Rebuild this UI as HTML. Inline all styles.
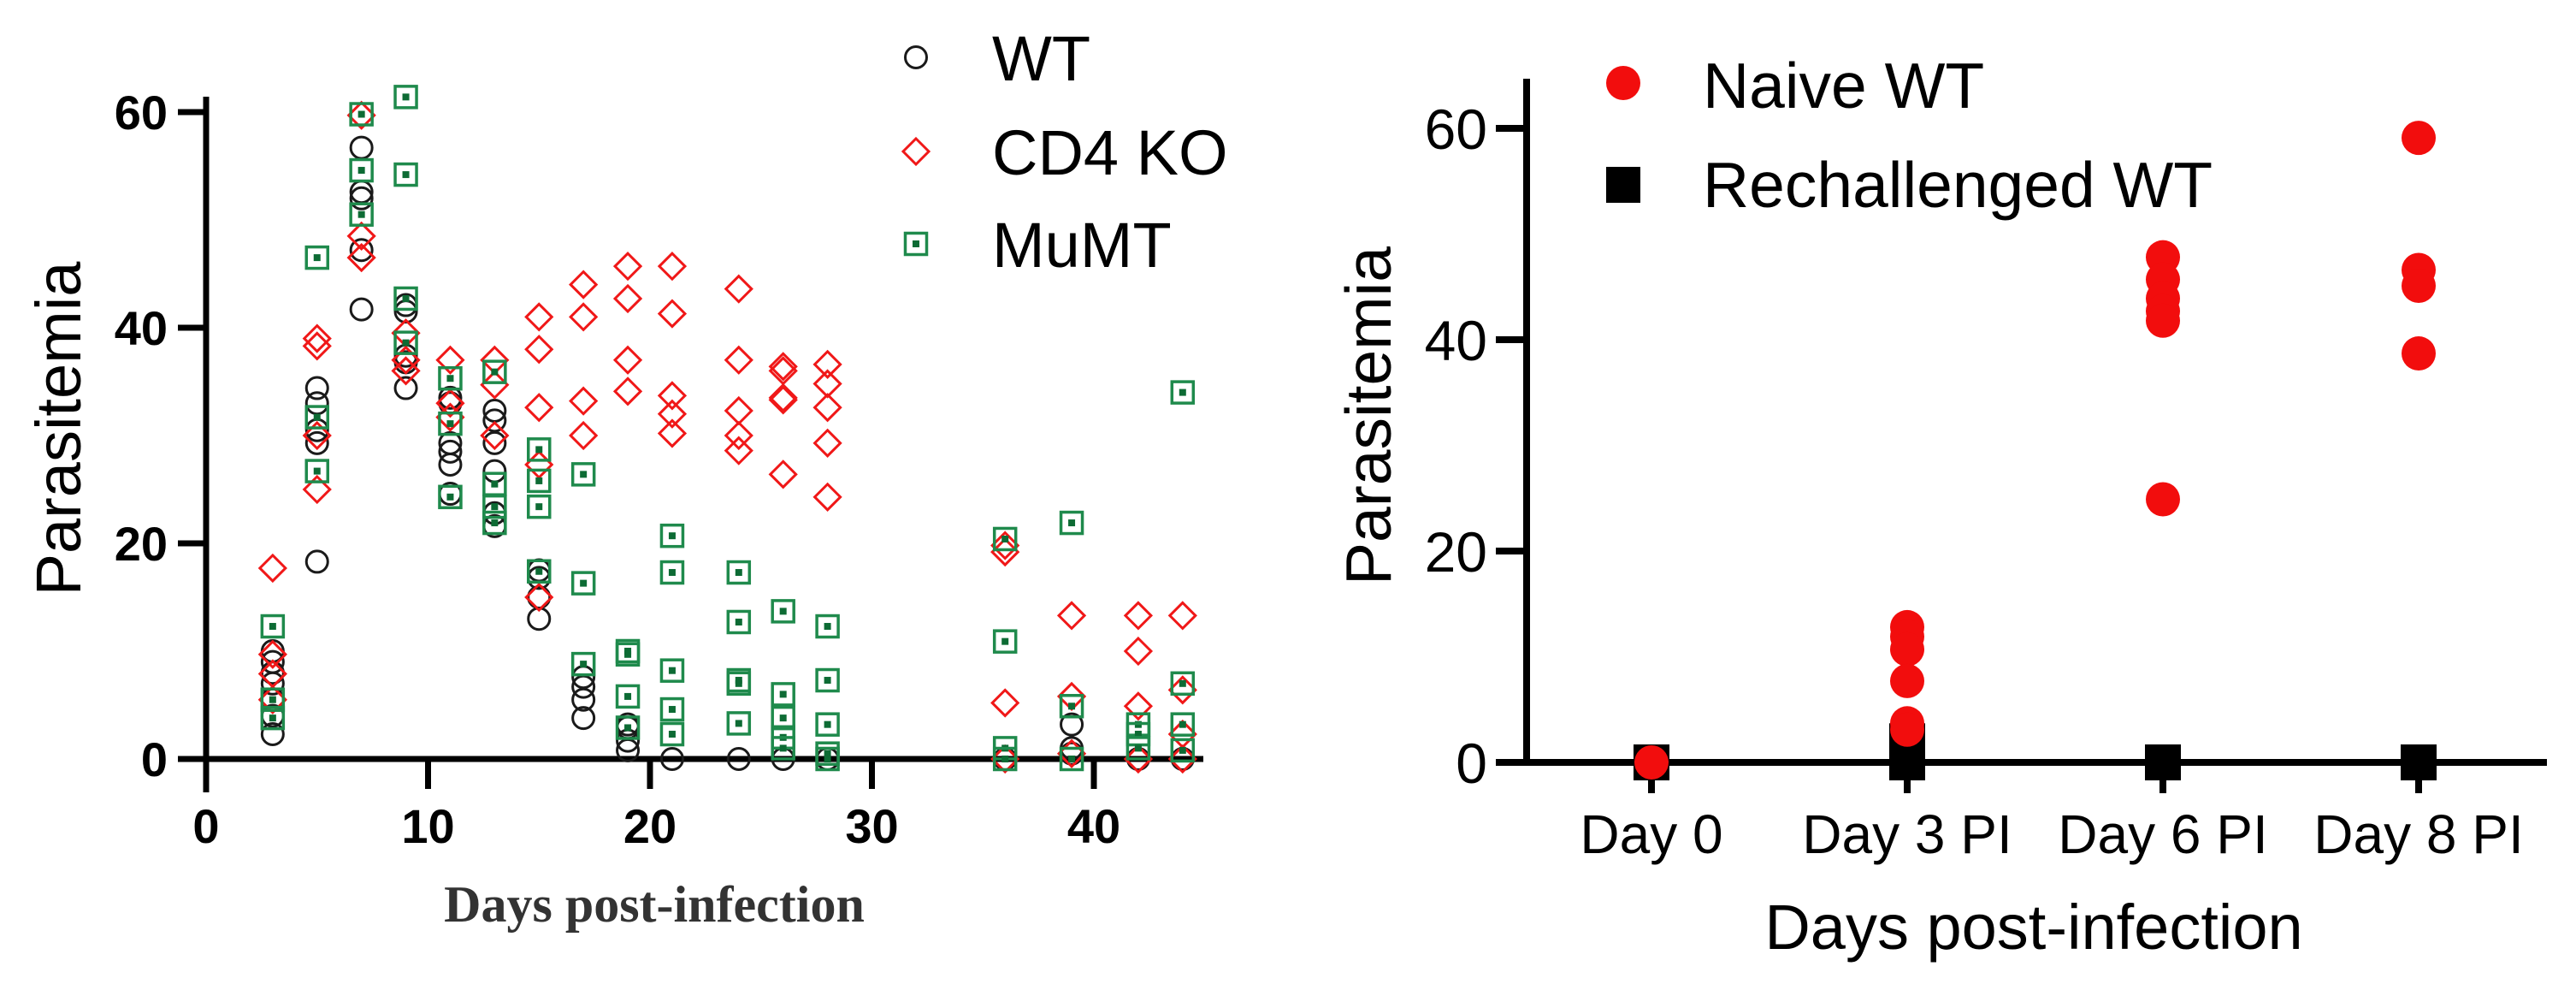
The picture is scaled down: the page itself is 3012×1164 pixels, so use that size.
<!DOCTYPE html>
<html><head><meta charset="utf-8"><style>
html,body{margin:0;padding:0;background:#fff;}
svg{display:block;}
</style></head><body>
<svg id="chart" width="3012" height="1164" viewBox="0 0 3012 1164" xmlns="http://www.w3.org/2000/svg">
<g id="left"></g>
<g id="right"></g>
</svg>
<script>
// ---- Left chart data ----
const days = [3,5,7,9,11,13,15,17,19,21,24,26,28,36,39,42,44];
const wtVals = [
 [2.3,4,5.5,7,8,9,10],[18.3,29.3,30.5,33,34.4],[41.7,47.2,52,52.6,56.7],[34.4,36.8,37.4,41.5,42.1],
 [24.6,27.3,28.5,29.3,33,33.5],[21.6,22.8,26.7,29.3,31.4,32.3],[13,15,16.8,17.5],[3.8,5.5,6.7,7.6],
 [0.8,1.7,2.9,3.2],[0],[0],[0],[0],[0],[3.2,1,0.5],[0],[0]];
const cd4Vals = [
 [17.7,9.7,7.9,5.5],[39,38.3,30,25],[59.7,48.5,46.5],[39.5,37,36],
 [37,33,31.7],[37,34.7,30],[41,38,32.6,27.3,15],[44,41,33.2,30],
 [45.7,42.7,37,34.1],[45.7,41.3,33.7,32,30.2],[43.6,37,32.3,30,28.6],[36.4,36,33.5,33.3,26.4],
 [36.6,34.8,32.6,29.3,24.3],[19.8,19.2,5.2,0],[13.3,5.8,0.5],[13.3,10,4.9,0],[13.3,6.4,2.3,0]];
const mumtVals = [
 [12.3,5.5,3.8],[46.5,31.7,26.7],[59.8,54.6,50.5],[61.4,54.2,42.7,38.6],
 [35.3,31.1,24.3],[35.9,25.5,23.4,21.9],[28.7,25.8,23.4,17.4],[26.4,16.3,8.8],
 [10,9.7,5.8,2.9],[20.7,17.3,8.2,4.6,2.3],[17.3,12.7,7.3,7,3.3],[13.7,6,3.8,2,1],
 [12.3,7.3,3.2,0.5,0],[20.4,10.9,1,0],[21.9,4.9,0],[3.2,2.3,1],[34,7,3.2,0.8]];
const leftXTicks = [0,10,20,30,40];
const leftYTicks = [0,20,40,60];
const leftSeries = ['WT','CD4 KO','MuMT'];

// ---- Right chart data ----
const categories = ['Day 0','Day 3 PI','Day 6 PI','Day 8 PI'];
const naiveVals = [[0],[12.8,11.9,10.7,7.7,3.7,3.1],[47.8,45.7,43.9,42.7,41.8,24.9],[59.1,46.6,45.1,38.7]];
const rechVals = [[0],[2,1,0.5,0],[0],[0]];
const rightYTicks = [0,20,40,60];
const rightSeries = ['Naive WT','Rechallenged WT'];

const NS='http://www.w3.org/2000/svg';
function mk(parent,tag,attrs,text){const e=document.createElementNS(NS,tag);for(const k in attrs)e.setAttribute(k,attrs[k]);if(text!==undefined)e.textContent=text;parent.appendChild(e);return e;}

// ===== LEFT =====
const L=document.getElementById('left');
const lx=v=>241+v*25.95, ly=v=>887-v*12.6;
const SANS='Liberation Sans, Arial, sans-serif';
function circle(g,x,y){return mk(g,'circle',{cx:x,cy:y,r:12.5,fill:'none',stroke:'#1a1a1a','stroke-width':3});}
function diamond(g,x,y){const d=15;return mk(g,'polygon',{points:`${x},${y-d} ${x+d},${y} ${x},${y+d} ${x-d},${y}`,fill:'none',stroke:'#f01818','stroke-width':3});}
function gsq(g,x,y){const grp=mk(g,'g',{});mk(grp,'rect',{x:x-12.5,y:y-12.5,width:25,height:25,fill:'none',stroke:'#1f8a4c','stroke-width':3.5});mk(grp,'rect',{x:x-4,y:y-4,width:8,height:8,fill:'#0d6b34'});return grp;}

let e;
e=mk(L,'line',{x1:241,y1:113,x2:241,y2:926,stroke:'#000','stroke-width':7});

e=mk(L,'line',{x1:210,y1:ly(0),x2:1407,y2:ly(0),stroke:'#000','stroke-width':7});

leftXTicks.forEach(t=>{
  const tk=mk(L,'line',{x1:lx(t),y1:ly(0),x2:lx(t),y2:ly(0)+35,stroke:'#000','stroke-width':7});
  
  const lb=mk(L,'text',{x:lx(t),y:985,'text-anchor':'middle','font-family':SANS,'font-weight':'bold','font-size':56,fill:'#000'},String(t));
  
});
leftYTicks.forEach(t=>{
  const tk=mk(L,'line',{x1:208,y1:ly(t),x2:241,y2:ly(t),stroke:'#000','stroke-width':7});
  
  const lb=mk(L,'text',{x:196,y:ly(t)+20,'text-anchor':'end','font-family':SANS,'font-weight':'bold','font-size':56,fill:'#000'},String(t));
  
});
e=mk(L,'text',{x:765,y:1077,'text-anchor':'middle','font-family':'Liberation Serif, serif','font-weight':'bold','font-size':60,fill:'#333'},'Days post-infection');

e=mk(L,'text',{x:0,y:0,'text-anchor':'middle','font-family':SANS,'font-size':74,fill:'#000',transform:'translate(94,501) rotate(-90)'},'Parasitemia');


const gW=mk(L,'g',{});
const gC=mk(L,'g',{});
const gM=mk(L,'g',{});
days.forEach((d,i)=>{
  mumtVals[i].forEach(v=>{const p=gsq(gM,lx(d),ly(v));});
  cd4Vals[i].forEach(v=>{const p=diamond(gC,lx(d),ly(v));});
  wtVals[i].forEach(v=>{const p=circle(gW,lx(d),ly(v));});
});
const legL=mk(L,'g',{});
const legY=[67,177,285];
leftSeries.forEach((s,i)=>{
  let m;
  if(i===0)m=circle(legL,1071,legY[i]);else if(i===1)m=diamond(legL,1071,legY[i]);else m=gsq(legL,1071,legY[i]);
  
  const t=mk(legL,'text',{x:1160,y:legY[i]+27,'font-family':SANS,'font-size':74,fill:'#000'},s);
  
});

// ===== RIGHT =====
const R=document.getElementById('right');
const rx=i=>1931+i*299, ry=v=>891-v*12.35;
const AX=1785;
e=mk(R,'line',{x1:AX,y1:92,x2:AX,y2:ry(0),stroke:'#000','stroke-width':8});

e=mk(R,'line',{x1:AX-36,y1:ry(0),x2:2978,y2:ry(0),stroke:'#000','stroke-width':8});

rightYTicks.forEach(t=>{
  const tk=mk(R,'line',{x1:AX-36,y1:ry(t),x2:AX,y2:ry(t),stroke:'#000','stroke-width':8});
  
  const lb=mk(R,'text',{x:AX-46,y:ry(t)+24,'text-anchor':'end','font-family':SANS,'font-size':66,fill:'#000'},String(t));
  
});
categories.forEach((c,i)=>{
  const tk=mk(R,'line',{x1:rx(i),y1:ry(0),x2:rx(i),y2:ry(0)+36,stroke:'#000','stroke-width':8});
  
  const lb=mk(R,'text',{x:rx(i),y:997,'text-anchor':'middle','font-family':SANS,'font-size':64,fill:'#000'},c);
  
});
e=mk(R,'text',{x:2378,y:1109,'text-anchor':'middle','font-family':SANS,'font-size':74,fill:'#000'},'Days post-infection');

e=mk(R,'text',{x:0,y:0,'text-anchor':'middle','font-family':SANS,'font-size':75,fill:'#000',transform:'translate(1626,486) rotate(-90)'},'Parasitemia');


const gR=mk(R,'g',{});
const gN=mk(R,'g',{});
categories.forEach((c,i)=>{
  rechVals[i].forEach(v=>{const p=mk(gR,'rect',{x:rx(i)-21,y:ry(v)-21,width:42,height:42,fill:'#000'});});
  naiveVals[i].forEach(v=>{const p=mk(gN,'circle',{cx:rx(i),cy:ry(v),r:20,fill:'#f20d0d'});});
});
const legR=mk(R,'g',{});
e=mk(legR,'circle',{cx:1898,cy:97,r:20,fill:'#f20d0d'});
e=mk(legR,'rect',{x:1878,y:195,width:40,height:42,fill:'#000'});
e=mk(legR,'text',{x:1991,y:126,'font-family':SANS,'font-size':75,fill:'#000'},rightSeries[0]);
e=mk(legR,'text',{x:1991,y:242,'font-family':SANS,'font-size':75,fill:'#000'},rightSeries[1]);
</script>
</body></html>
